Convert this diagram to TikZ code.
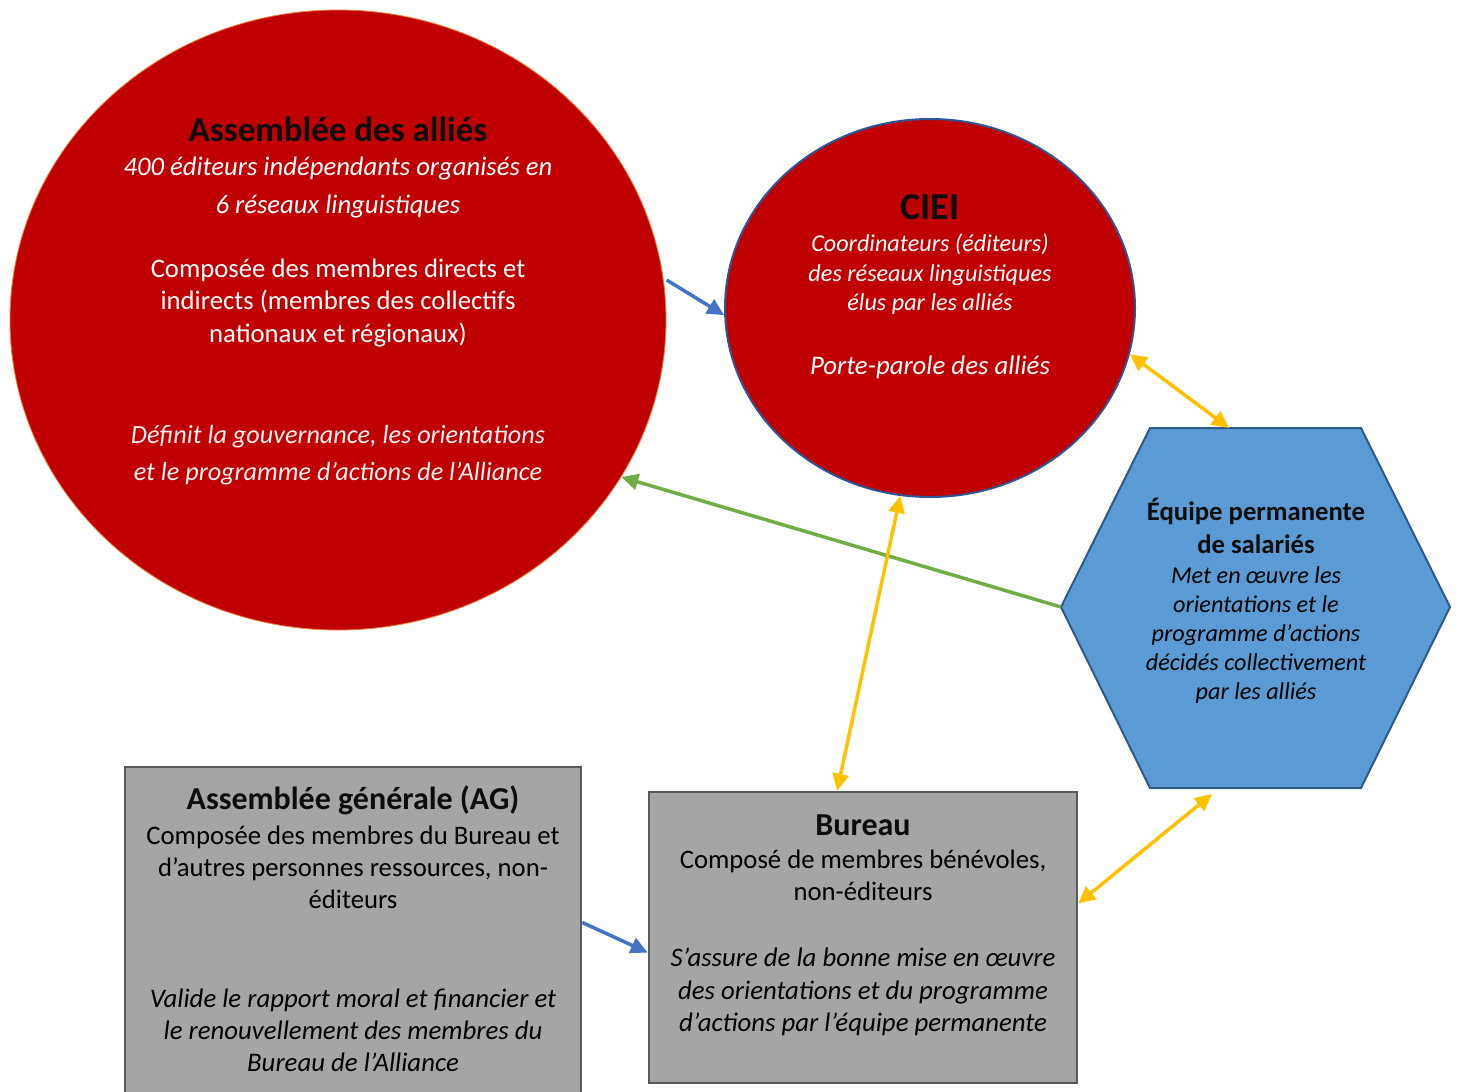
\documentclass[tikz,border=0pt]{standalone}
\usepackage{fontspec}
\setmainfont{Carlito}
\usetikzlibrary{shapes.geometric,arrows.meta}
\definecolor{redfill}{HTML}{C00000}
\definecolor{orangeedge}{HTML}{ED7D31}
\definecolor{navyedge}{HTML}{2F5597}
\definecolor{hexfill}{HTML}{5B9BD5}
\definecolor{hexedge}{HTML}{2E5A87}
\definecolor{greyfill}{HTML}{A5A5A5}
\definecolor{greyedge}{HTML}{595959}
\definecolor{arrblue}{HTML}{4472C4}
\definecolor{arrgreen}{HTML}{70AD47}
\definecolor{arryellow}{HTML}{FFC000}
\definecolor{titleblack}{HTML}{0D0D0D}
\begin{document}
\begin{tikzpicture}[x=1pt,y=-1pt,
  ln/.style={anchor=base,inner sep=0pt,outer sep=0pt},
  ttl/.style={ln,font=\fontsize{35}{40}\selectfont\bfseries,text=titleblack},
  ttlb/.style={ln,font=\fontsize{32}{36}\selectfont\bfseries,text=titleblack},
  ttlh/.style={ln,font=\fontsize{26.7}{30}\selectfont\bfseries,text=titleblack},
  wit/.style={ln,font=\fontsize{26.7}{30}\selectfont\itshape,text=white},
  wlit/.style={ln,font=\fontsize{26.2}{30}\selectfont\itshape,text=white!95!red},
  wrg/.style={ln,font=\fontsize{26.7}{30}\selectfont,text=white},
  wits/.style={ln,font=\fontsize{24.2}{28}\selectfont\itshape,text=white},
  wbig/.style={ln,font=\fontsize{26.8}{30}\selectfont\itshape,text=white},
  bits/.style={ln,font=\fontsize{24.2}{28}\selectfont\itshape,text=black},
  brg/.style={ln,font=\fontsize{26.7}{30}\selectfont,text=black},
  bit/.style={ln,font=\fontsize{26.8}{30}\selectfont\itshape,text=black},
  arrtip/.tip={Triangle[length=17pt,width=16pt]},
  conn/.style={line width=3.5pt},
  boxshape/.style={rectangle,draw=greyedge,line width=2.5pt,fill=greyfill,inner sep=0pt}
]
\useasboundingbox (0,0) rectangle (1459,1092);
\clip (0,0) rectangle (1459,1092);

% shapes
\node[ellipse,fill=redfill,draw=orangeedge,line width=0.8pt,inner sep=0pt,
      minimum width=656pt,minimum height=620pt] (allies) at (338,320) {};
\node[ellipse,fill=redfill,draw=navyedge,line width=2pt,inner sep=0pt,
      minimum width=410pt,minimum height=378pt] (ciei) at (930,308) {};
\node[boxshape,minimum width=456pt,minimum height=343pt] (ag) at (353,938.5) {};
\node[boxshape,minimum width=428pt,minimum height=291pt] (bureau) at (863,937.5) {};
\coordinate (hexT) at (1229,428);
\coordinate (hexL) at (1061,607);
\coordinate (hexB) at (1212,794);
\draw[fill=hexfill,draw=hexedge,line width=2pt,line join=miter]
  (1150,428) -- (1361,428) -- (1450,607) -- (1361,788) -- (1150,788) -- (hexL) -- cycle;

% Assemblée des alliés
\node[ttl] (a1) at (338,141) {Assemblée des alliés};
\node[wit] (a2) at (338,175) {400 éditeurs indépendants organisés en};
\node[wit] (a3) at (338,213) {6 réseaux linguistiques};
\node[wrg] (a4) at (338,277) {Composée des membres directs et};
\node[wrg] (a5) at (338,309) {indirects (membres des collectifs};
\node[wrg] (a6) at (338,342) {nationaux et régionaux)};
\node[wlit] (a7) at (338,443) {Définit la gouvernance, les orientations};
\node[wlit] (a8) at (338,480) {et le programme d’actions de l’Alliance};

% CIEI
\node[ttl,font=\fontsize{38}{42}\selectfont\bfseries] (c1) at (930,219) {CIEI};
\node[wits] (c2) at (930,251) {Coordinateurs (éditeurs)};
\node[wits] (c3) at (930,281) {des réseaux linguistiques};
\node[wits] (c4) at (930,310) {élus par les alliés};
\node[wbig] (c5) at (930,374) {Porte-parole des alliés};

% Équipe permanente
\node[ttlh] (h1) at (1256,520) {Équipe permanente};
\node[ttlh] (h2) at (1256,553) {de salariés};
\node[bits] (h3) at (1256,583) {Met en œuvre les};
\node[bits] (h4) at (1256,612) {orientations et le};
\node[bits] (h5) at (1256,641) {programme d’actions};
\node[bits] (h6) at (1256,670) {décidés collectivement};
\node[bits] (h7) at (1256,699) {par les alliés};

% AG
\node[ttlb] (g1) at (353,809) {Assemblée générale (AG)};
\node[brg] (g2) at (353,844) {Composée des membres du Bureau et};
\node[brg] (g3) at (353,876) {d’autres personnes ressources, non-};
\node[brg] (g4) at (353,908) {éditeurs};
\node[bit] (g5) at (353,1007) {Valide le rapport moral et financier et};
\node[bit] (g6) at (353,1039) {le renouvellement des membres du};
\node[bit] (g7) at (353,1071) {Bureau de l’Alliance};

% Bureau
\node[ttlb] (b1) at (863,835) {Bureau};
\node[brg] (b2) at (863,868) {Composé de membres bénévoles,};
\node[brg] (b3) at (863,900) {non-éditeurs};
\node[bit] (b4) at (863,966) {S’assure de la bonne mise en œuvre};
\node[bit] (b5) at (863,999) {des orientations et du programme};
\node[bit] (b6) at (863,1031) {d’actions par l’équipe permanente};

% connectors
\draw[conn,draw=arrblue,-{arrtip[fill=arrblue]}] ([shift={(3,0)}]allies.7.3) -- (ciei.182);
\draw[conn,draw=arrgreen,-{arrtip[fill=arrgreen]}] (hexL) -- (allies.-29.4);
\draw[conn,draw=arryellow,{arrtip[fill=arryellow]}-{arrtip[fill=arryellow]}] (ciei.-13) -- (hexT);
\draw[conn,draw=arryellow,{arrtip[fill=arryellow]}-{arrtip[fill=arryellow]}] (ciei.-99.9) -- (bureau.100.9);
\draw[conn,draw=arryellow,{arrtip[fill=arryellow]}-{arrtip[fill=arryellow]}] (hexB) -- (bureau.9.1);
\draw[conn,draw=arrblue,-{arrtip[fill=arrblue]}] (ag.4.6) -- (bureau.184.7);
\end{tikzpicture}
\end{document}
